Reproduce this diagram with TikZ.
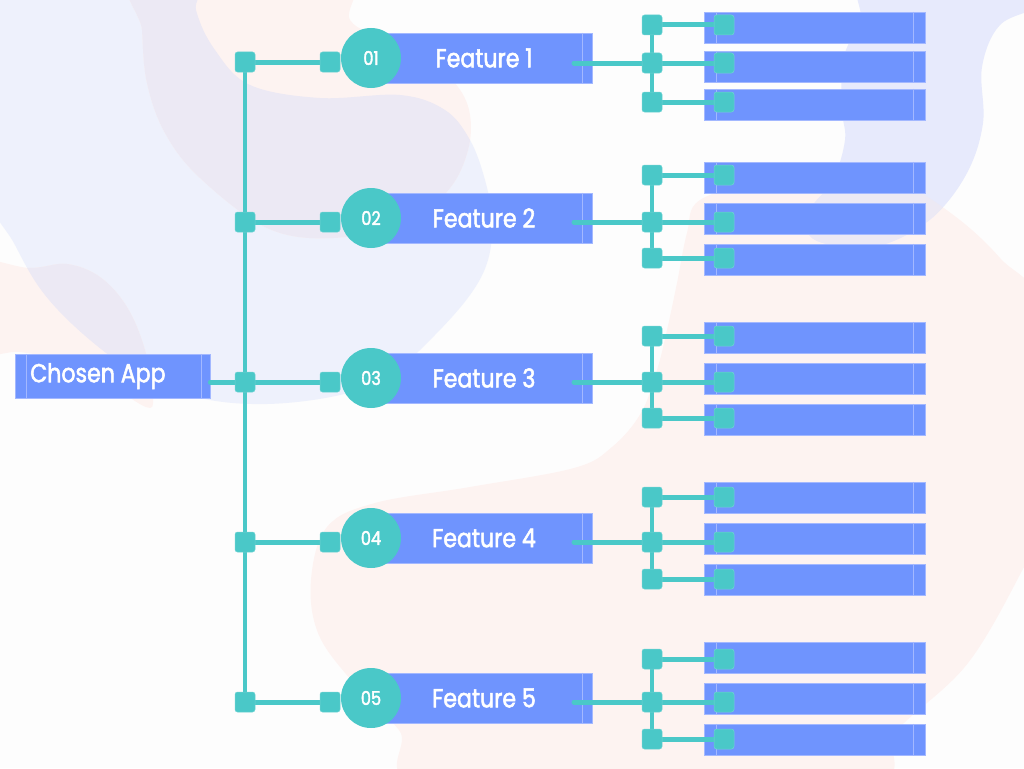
\documentclass[tikz,border=0pt]{standalone}
\usepackage{fontspec}
\setmainfont{Poppins}
\newfontfamily\labelfont{Poppins}[FakeStretch=0.85, FakeBold=2]
\usetikzlibrary{calc}
\pgfdeclarelayer{blobs}\pgfdeclarelayer{boxes}\pgfdeclarelayer{lines}
\pgfsetlayers{blobs,boxes,lines,main}
\definecolor{boxblue}{HTML}{6F94FE}
\definecolor{boxedge}{HTML}{A3B8FF}
\definecolor{tealc}{HTML}{4AC8C8}
\definecolor{bgwhite}{HTML}{FDFDFD}
\definecolor{bgblue}{HTML}{EEF1FC}
\definecolor{bgpink}{HTML}{FDF3F1}
\definecolor{bglav}{HTML}{ECE9F4}
\definecolor{bgtr}{HTML}{E7EAFC}
\tikzset{
  bluebox/.style={fill=boxblue, draw=boxedge, line width=0.8pt, inner sep=0pt},
  featbox/.style={bluebox, minimum width=207pt, minimum height=50pt},
  subbox/.style={bluebox, minimum width=221pt, minimum height=31.5pt},
  appbox/.style={bluebox, minimum width=195pt, minimum height=44pt},
  sq/.style={fill=tealc, draw=tealc!80!white, line width=0.5pt, rounded corners=2.5pt, minimum size=20pt, inner sep=0pt},
  numcirc/.style={circle, fill=tealc, minimum size=60pt, inner sep=0pt, text=white, font=\labelfont\fontsize{19}{20}\selectfont},
  ftext/.style={text=white, font=\labelfont\fontsize{26}{28}\selectfont, inner sep=0pt},
  conn/.style={draw=tealc, line width=5pt, line cap=round},
  thinl/.style={draw=boxedge, line width=0.6pt},
}
\begin{document}
\begin{tikzpicture}[x=1pt,y=-1pt]
\useasboundingbox (0,0) rectangle (1024,768);
\begin{pgfonlayer}{blobs}
\fill[bgwhite] (0,0) rectangle (1024,768);
\def\blueblob{plot[smooth cycle, tension=0.6] coordinates {(-40,-40) (190,-40) (196,10) (215,50) (250,85) (320,98) (400,95) (445,110) (470,140) (485,180) (492,220) (488,260) (470,295) (433,337) (390,375) (340,395) (267,404) (200,398) (140,375) (90,340) (45,295) (15,245) (-20,170)}}
\def\pinktop{plot[smooth cycle, tension=0.6] coordinates {(140,-30) (340,-30) (350,20) (385,38) (430,62) (458,87) (470,115) (468,150) (450,188) (410,222) (333,238) (267,228) (200,178) (165,133) (147,83) (142,30)}}
\def\pinkleft{plot[smooth cycle, tension=0.6] coordinates {(-30,265) (30,268) (67,264) (100,277) (127,307) (145,350) (153,398) (146,407) (110,385) (65,362) (20,352) (-30,350)}}
\def\trblob{plot[smooth cycle, tension=0.6] coordinates {(873,-20) (860,20) (843,60) (842,110) (845,140) (833,180) (810,210) (810,236) (840,246) (885,244) (933,217) (967,173) (983,123) (982,67) (1000,25) (1040,5) (1040,-20)}}
\def\pinkbig{plot[smooth cycle, tension=0.6] coordinates {(700,200) (767,180) (833,176) (900,184) (952,214) (1000,258) (1045,320) (1045,520) (1024,567) (968,663) (897,730) (850,790) (440,790) (399,730) (351,680) (318,633) (311,580) (327,527) (375,503) (470,487) (574,468) (612,447) (641,413) (657,370) (667,330) (677,283) (687,233)}}
\fill[bgblue] \blueblob;
\fill[bgpink] \pinktop;
\fill[bgpink] \pinkleft;
\fill[bgpink] \pinkbig;
\fill[bgtr] \trblob;
\begin{scope}\clip \blueblob; \fill[bglav] \pinktop; \fill[bglav] \pinkleft; \end{scope}
\begin{scope}\clip \trblob; \fill[bglav] \pinkbig; \end{scope}
\end{pgfonlayer}

% Chosen App
\begin{pgfonlayer}{boxes}
\node[appbox] (app) at (112.5,376) {};
\draw[thinl] ([xshift=12pt]app.north west) -- ([xshift=12pt]app.south west);
\draw[thinl] ([xshift=-9pt]app.north east) -- ([xshift=-9pt]app.south east);
\node[ftext, anchor=west] (apptext) at (30,376) {Chosen App};
\end{pgfonlayer}

\foreach \i/\F/\ta/\tb/\tc/\sa/\sb/\sc in {
  1/58/12/51/89/25/63/102,
  2/218/162/203/244/175/222/258,
  3/378/322/363/404/336/382/418,
  4/538/482/523/564/497/542/579,
  5/698/642/683/724/659/702/739}{
  \begin{pgfonlayer}{boxes}
    \node[featbox] (f\i) at (488.5,\F) {};
    \draw[thinl] ([xshift=-10pt]f\i.north east) -- ([xshift=-10pt]f\i.south east);
    \node[ftext] (ft\i) at (484,\F) {Feature \i};
    \node[subbox] (ra\i) at (814.5,{\ta+15.75}) {};
    \node[subbox] (rb\i) at (814.5,{\tb+15.75}) {};
    \node[subbox] (rc\i) at (814.5,{\tc+15.75}) {};
    \foreach \r in {ra,rb,rc}{
      \draw[thinl] ([xshift=13pt]\r\i.north west) -- ([xshift=13pt]\r\i.south west);
      \draw[thinl] ([xshift=-12pt]\r\i.north east) -- ([xshift=-12pt]\r\i.south east);
    }
  \end{pgfonlayer}
  \node[numcirc] (c\i) at (371,\F) {0\i};
  \node[sq] (ls\i) at (245,{\F+4}) {};
  \node[sq] (ms\i) at (330,{\F+4}) {};
  \node[sq] (ba\i) at (652,\sa) {};
  \node[sq] (bb\i) at (652,\sb) {};
  \node[sq] (bc\i) at (652,\sc) {};
  \node[sq] (sa\i) at (724,\sa) {};
  \node[sq] (sb\i) at (724,\sb) {};
  \node[sq] (sc\i) at (724,\sc) {};
  \coordinate (fo\i) at (574,\sb);
  \begin{pgfonlayer}{lines}
    \draw[conn] (ls\i.center) -- (ms\i.center);
    \draw[conn] (fo\i) -- (bb\i.center);
    \draw[conn, line width=4.5pt] (ba\i.center) -- (bc\i.center);
    \draw[conn] (ba\i.center) -- (sa\i.center);
    \draw[conn] (bb\i.center) -- (sb\i.center);
    \draw[conn] (bc\i.center) -- (sc\i.center);
  \end{pgfonlayer}
}
\begin{pgfonlayer}{lines}
\draw[conn, line width=4.5pt] (ls1.center) -- (ls5.center);
\draw[conn] (app.east |- ls3.center) -- (ls3.center);
\end{pgfonlayer}
\end{tikzpicture}
\end{document}
